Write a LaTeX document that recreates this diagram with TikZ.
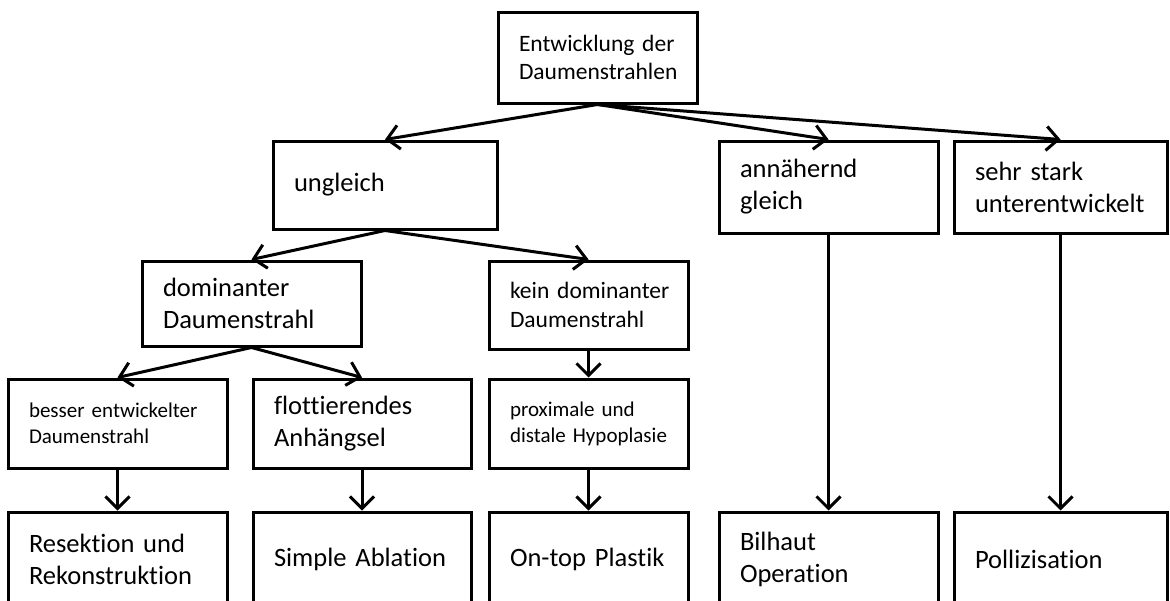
\documentclass[tikz,border=0pt]{standalone}
\usepackage{fontspec}
\setmainfont{Carlito}[Ligatures=NoCommon,WordSpace=1.2]
\usetikzlibrary{arrows.meta}
\hyphenpenalty=10000
\exhyphenpenalty=10000
\newcommand{\fbig}{\fontsize{26.5}{32}\selectfont}
\newcommand{\fmid}{\fontsize{23.5}{28.5}\selectfont}
\newcommand{\fsmall}{\fontsize{21}{26}\selectfont}
\begin{document}
\begin{tikzpicture}[x=1pt,y=-1pt,line width=3pt,
  >={Straight Barb[length=12pt,width=24pt,line join=miter]},
  box/.style={draw,rectangle,inner xsep=21pt,inner ysep=0pt,align=left,font=\fbig}]
\clip (0,0) rectangle (1170,600);
\fill[white] (0,0) rectangle (1170,600);
\node[box,font=\fmid,text width=157pt,minimum height=91pt] (wurzel) at (597.5,57.5) {Entwicklung~der\\Daumenstrahlen};
\node[box,text width=182pt,minimum height=88pt] (ungl) at (385,185) {ungleich};
\node[box,text width=177pt,minimum height=92pt] (annae) at (828.5,187) {ann\"ahernd\\gleich};
\node[box,text width=171pt,minimum height=92pt] (stark) at (1060.5,187) {sehr~stark\\unterentwickelt};
\node[box,text width=177pt,minimum height=85pt] (domi) at (251.5,303.5) {dominanter\\Daumenstrahl};
\node[box,font=\fmid,text width=157pt,minimum height=88pt] (kein) at (588.5,305) {kein~dominanter\\Daumenstrahl};
\node[box,font=\fsmall,text width=177pt,minimum height=89pt] (besser) at (117.5,423.5) {besser~entwickelter\\Daumenstrahl};
\node[box,text width=176pt,minimum height=89pt] (flott) at (362,423.5) {flottierendes\\Anh\"angsel};
\node[box,font=\fsmall,text width=157pt,minimum height=89pt] (prox) at (588.5,423.5) {proximale~und\\distale~Hypoplasie};
\node[box,text width=177pt,minimum height=95pt] (resek) at (117.5,559.5) {Resektion~und\\Rekonstruktion};
\node[box,text width=176pt,minimum height=95pt] (ablat) at (362,559.5) {Simple~Ablation};
\node[box,text width=157pt,minimum height=95pt] (ontop) at (588.5,559.5) {On-top~Plastik};
\node[box,text width=177pt,minimum height=95pt] (bilh) at (828.5,559.5) {Bilhaut\\Operation};
\node[box,text width=171pt,minimum height=95pt] (polli) at (1060.5,559.5) {Pollizisation};
\draw[->] (wurzel.south) -- (ungl.north);
\draw[->] (wurzel.south) -- (annae.north);
\draw[->] (wurzel.south) -- (stark.north);
\draw[->] (ungl.south) -- (domi.north);
\draw[->] (ungl.south) -- (kein.north);
\draw[->] (domi.south) -- (besser.north);
\draw[->] (domi.south) -- (flott.north);
\draw[->] (kein.south) -- (prox.north);
\draw[->] (besser.south) -- (resek.north);
\draw[->] (flott.south) -- (ablat.north);
\draw[->] (prox.south) -- (ontop.north);
\draw[->] (annae.south) -- (bilh.north);
\draw[->] (stark.south) -- (polli.north);
\end{tikzpicture}
\end{document}
